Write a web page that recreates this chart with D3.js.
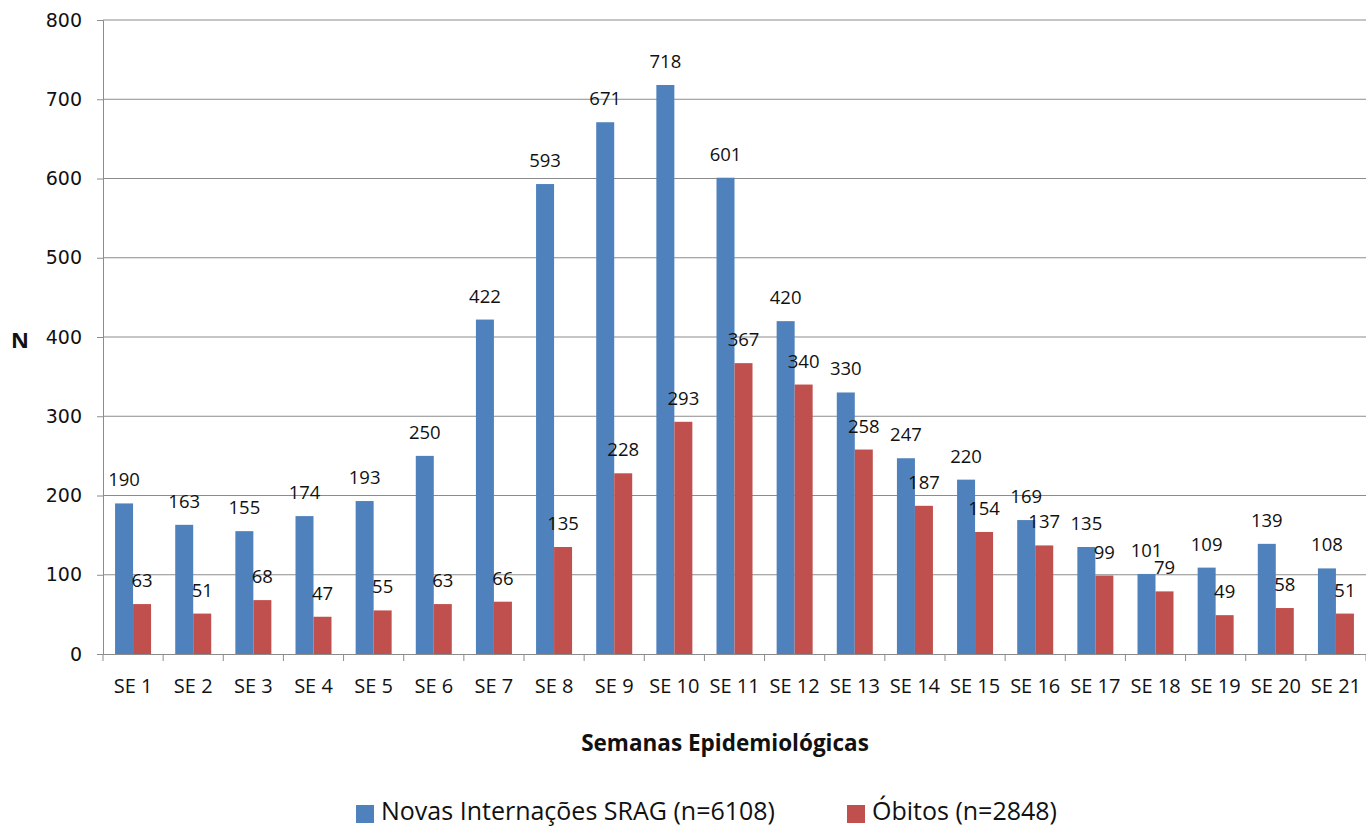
<!DOCTYPE html>
<html>
<head>
<meta charset="utf-8">
<script src="https://cdn.jsdelivr.net/npm/d3@7"></script>
<style>
  html, body { margin: 0; padding: 0; background: #fff; }
  svg { display: block; font-family: "Open Sans", "DejaVu Sans", sans-serif; }
</style>
</head>
<body>
<svg id="chart" width="1366" height="827"></svg>
<script>
// ─── Data ─────────────────────────────────────────────────────────────────────

const weeks = ["SE 1","SE 2","SE 3","SE 4","SE 5","SE 6","SE 7","SE 8","SE 9","SE 10","SE 11",
  "SE 12","SE 13","SE 14","SE 15","SE 16","SE 17","SE 18","SE 19","SE 20","SE 21"];
const internacoes = [190,163,155,174,193,250,422,593,671,718,601,420,330,247,220,169,135,101,109,139,108];
const obitos = [63,51,68,47,55,63,66,135,228,293,367,340,258,187,154,137,99,79,49,58,51];
const seriesNames = ["Novas Internações SRAG (n=6108)", "Óbitos (n=2848)"];
const yTicks = [0,100,200,300,400,500,600,700,800];

const colors = ["#4F81BD", "#C0504D"];

// ─── Layout ───────────────────────────────────────────────────────────────────

const svg = d3.select("#chart");
const margin = { top: 20, right: 0, bottom: 173, left: 103 };
const width = 1366 - margin.left - margin.right;
const height = 827 - margin.top - margin.bottom;

const g = svg.append("g").attr("transform", `translate(${margin.left},${margin.top})`);

const x = d3.scaleBand().domain(weeks).range([0, width]);
const y = d3.scaleLinear().domain([0, 800]).range([height, 0]);
const barW = 18;
const axisGrey = "#8c8c8c";

// Grid
g.append("g")
  .selectAll("line")
  .data(yTicks.filter(d => d > 0))
  .join("line")
  .attr("x1", 0).attr("x2", width)
  .attr("y1", d => y(d)).attr("y2", d => y(d))
  .attr("stroke", axisGrey).attr("stroke-width", 1);

// Y axis
const yAxis = g.append("g")
  .call(d3.axisLeft(y).tickValues(yTicks).tickSize(6).tickPadding(15));
yAxis.select(".domain").attr("stroke", axisGrey);
yAxis.selectAll(".tick line").attr("stroke", axisGrey);
yAxis.selectAll("text")
  .attr("font-size", "19px")
  .attr("font-family", "DejaVu Sans, sans-serif")
  .attr("fill", "#111");

// X axis
const xAxis = g.append("g")
  .attr("transform", `translate(0,${height})`)
  .call(d3.axisBottom(x).tickSize(0).tickPadding(25));
xAxis.select(".domain").attr("stroke", axisGrey);
xAxis.selectAll("text")
  .attr("font-size", "20px")
  .attr("font-family", "Open Sans, sans-serif")
  .attr("fill", "#111");

// X tick marks between categories
g.append("g")
  .selectAll("line")
  .data(d3.range(weeks.length + 1))
  .join("line")
  .attr("x1", i => i * x.step()).attr("x2", i => i * x.step())
  .attr("y1", height).attr("y2", height + 7)
  .attr("stroke", axisGrey);

// Bars
const rows = weeks.map((w, i) => ({ week: w, vals: [internacoes[i], obitos[i]] }));

const groups = g.selectAll(".grp")
  .data(rows)
  .join("g")
  .attr("class", "grp")
  .attr("transform", d => `translate(${x(d.week) + x.bandwidth() / 2},0)`);

groups.selectAll("rect")
  .data(d => d.vals.map((v, k) => ({ v, k })))
  .join("rect")
  .attr("x", d => d.k === 0 ? -barW : 0)
  .attr("width", barW)
  .attr("y", d => y(d.v))
  .attr("height", d => height - y(d.v))
  .attr("fill", d => colors[d.k]);

// Value labels
groups.selectAll("text")
  .data(d => d.vals.map((v, k) => ({ v, k })))
  .join("text")
  .attr("x", d => d.k === 0 ? -barW / 2 : barW / 2)
  .attr("y", d => y(d.v) - 17)
  .attr("text-anchor", "middle")
  .attr("font-size", "18.5px")
  .attr("fill", "#111")
  .text(d => d.v);

// Axis titles
svg.append("text")
  .attr("x", 20).attr("y", 348)
  .attr("text-anchor", "middle")
  .attr("font-size", "22px").attr("font-weight", "700")
  .attr("fill", "#111")
  .text("N");

svg.append("text")
  .attr("x", 725).attr("y", 751)
  .attr("text-anchor", "middle")
  .attr("font-size", "22.5px").attr("font-weight", "700")
  .attr("fill", "#111")
  .text("Semanas Epidemiológicas");

// Legend
const legendX = [356, 847];
const legend = svg.append("g");
seriesNames.forEach((name, k) => {
  legend.append("rect")
    .attr("x", legendX[k]).attr("y", 805)
    .attr("width", 18).attr("height", 18)
    .attr("fill", colors[k]);
  legend.append("text")
    .attr("x", legendX[k] + 25).attr("y", 820)
    .attr("font-size", "25px")
    .attr("fill", "#111")
    .text(name);
});
</script>
</body>
</html>
